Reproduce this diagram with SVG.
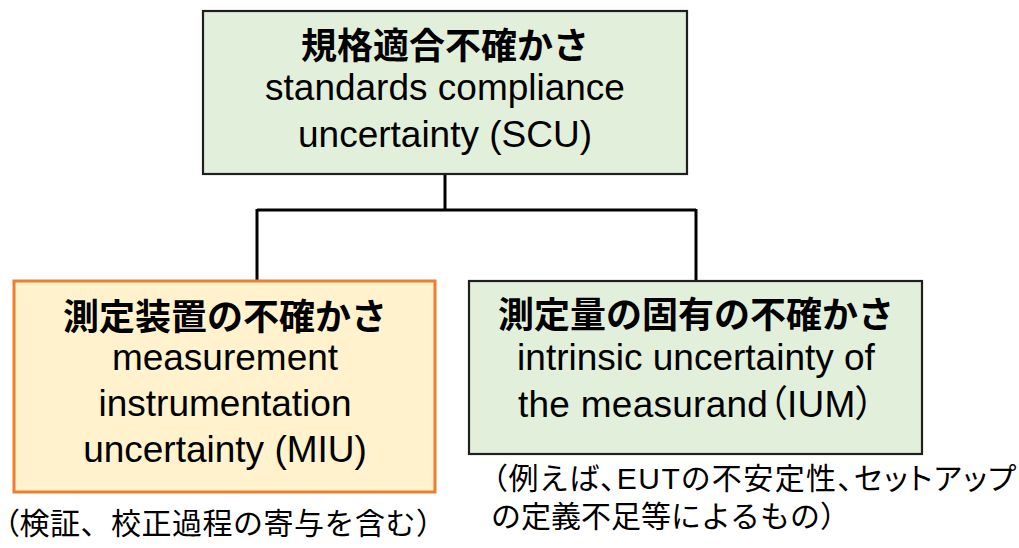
<svg xmlns="http://www.w3.org/2000/svg" width="1019" height="548" viewBox="0 0 1019 548">
<style>
.box-g{fill:#E2EFDA;stroke:#1F1F1F;stroke-width:2.2}
.box-o{fill:#FFF2CC;stroke:#ED7D31;stroke-width:3}
.conn{fill:none;stroke:#000;stroke-width:3}
text{font-family:"Liberation Sans","Noto Sans CJK JP",sans-serif;fill:#000}
.t{font-size:36px;font-weight:700;text-anchor:middle}
.e{font-size:37px;text-anchor:middle}
.n{font-size:30px}
.p{font-feature-settings:"palt" 1}
</style>
<rect width="1019" height="548" fill="#fff"/>
<g id="connectors">
<path class="conn" d="M445 174 V210 M257 210 H696 M257 209 V281 M696 209 V281"/>
</g>
<g id="scu">
<rect class="box-g" x="203" y="11" width="484" height="163"/>
<text class="t" x="445" y="59">規格適合不確かさ</text>
<text class="e" x="445" y="100">standards compliance</text>
<text class="e" x="445" y="147">uncertainty (SCU)</text>
</g>
<g id="miu">
<rect class="box-o" x="14" y="281" width="421" height="211"/>
<text class="t" x="225" y="330">測定装置の不確かさ</text>
<text class="e" x="225" y="370">measurement</text>
<text class="e" x="225" y="416">instrumentation</text>
<text class="e" x="225" y="462">uncertainty (MIU)</text>
</g>
<g id="ium">
<rect class="box-g" x="469" y="281" width="453" height="173"/>
<text class="t" x="696" y="328">測定量の固有の不確かさ</text>
<text class="e" x="696" y="370">intrinsic uncertainty of</text>
<text class="e p" x="696" y="417" textLength="356" lengthAdjust="spacing">the measurand（IUM）</text>
</g>
<g id="notes">
<text class="n" x="4" y="534" textLength="442" lengthAdjust="spacing"><tspan class="p">（</tspan>検証、校正過程の寄与を含む）</text>
<text class="n p" x="492" y="489" textLength="524" lengthAdjust="spacing">（例えば、EUTの不安定性、セットアップ</text>
<text class="n" x="491" y="527">の定義不足等によるもの）</text>
</g>
</svg>
